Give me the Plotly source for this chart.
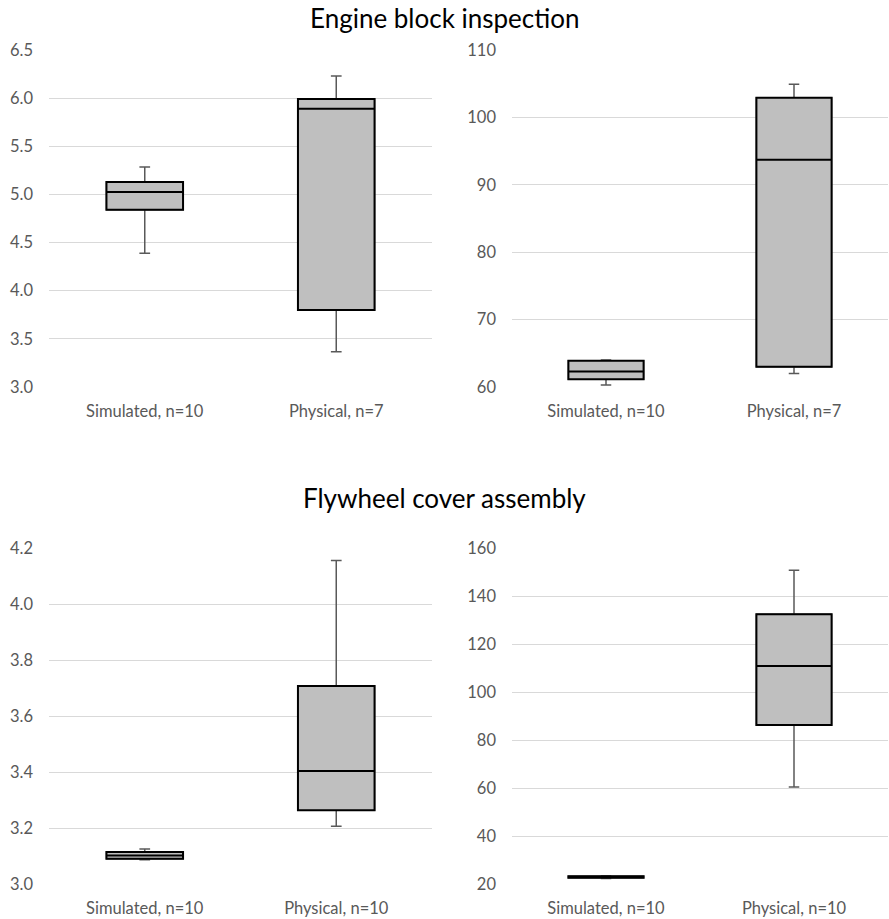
import plotly.graph_objects as go

categories_top = ["Simulated, n=10", "Physical, n=7"]
categories_bottom = ["Simulated, n=10", "Physical, n=10"]

# Engine block inspection - left panel
eb_left_min = [4.39, 3.365]
eb_left_q1 = [4.84, 3.80]
eb_left_med = [5.025, 5.89]
eb_left_q3 = [5.13, 5.99]
eb_left_max = [5.285, 6.23]

# Engine block inspection - right panel
eb_right_min = [60.3, 62.0]
eb_right_q1 = [61.15, 63.0]
eb_right_med = [62.3, 93.7]
eb_right_q3 = [63.9, 102.9]
eb_right_max = [64.0, 104.9]

# Flywheel cover assembly - left panel
fw_left_min = [3.087, 3.206]
fw_left_q1 = [3.09, 3.263]
fw_left_med = [3.102, 3.404]
fw_left_q3 = [3.114, 3.707]
fw_left_max = [3.125, 4.155]

# Flywheel cover assembly - right panel
fw_right_min = [22.3, 60.4]
fw_right_q1 = [22.6, 86.2]
fw_right_med = [22.9, 110.8]
fw_right_q3 = [23.2, 132.4]
fw_right_max = [23.4, 150.7]

panels = [
    (categories_top, eb_left_min, eb_left_q1, eb_left_med, eb_left_q3, eb_left_max, "x", "y"),
    (categories_top, eb_right_min, eb_right_q1, eb_right_med, eb_right_q3, eb_right_max, "x2", "y2"),
    (categories_bottom, fw_left_min, fw_left_q1, fw_left_med, fw_left_q3, fw_left_max, "x3", "y3"),
    (categories_bottom, fw_right_min, fw_right_q1, fw_right_med, fw_right_q3, fw_right_max, "x4", "y4"),
]

FONT = "Lato"
TICKCOL = "#595959"
GRID = "#d9d9d9"

fig = go.Figure()
for cats, mn, q1, med, q3, mx, xa, ya in panels:
    # whiskers (gray)
    fig.add_trace(go.Box(
        x=cats, q1=q1, median=med, q3=q3, lowerfence=mn, upperfence=mx,
        xaxis=xa, yaxis=ya, boxpoints=False, width=0.4, whiskerwidth=0.14,
        line=dict(color=TICKCOL, width=1.5), fillcolor="rgba(0,0,0,0)",
        offsetgroup="a", showlegend=False, hoverinfo="skip"))
    # box (black outline, gray fill)
    fig.add_trace(go.Box(
        x=cats, q1=q1, median=med, q3=q3, lowerfence=q1, upperfence=q3,
        xaxis=xa, yaxis=ya, boxpoints=False, width=0.4, whiskerwidth=0,
        line=dict(color="#000000", width=2), fillcolor="#bfbfbf",
        offsetgroup="a", showlegend=False, hoverinfo="skip"))

W = 889.0
H = 919.0
def yd(top_px, bot_px):
    return [1 - bot_px / H, 1 - top_px / H]

xdom_l = [49 / W, 432 / W]
xdom_r = [512 / W, 888 / W]
ydom_t = yd(50, 387)
ydom_b = yd(548, 884)

xcommon = dict(showgrid=False, zeroline=False, showline=False, ticks="", automargin=False,
               tickfont=dict(family=FONT, size=16.5, color=TICKCOL), range=[-0.5, 1.5],
               type="category", ticklabelstandoff=12)
ycommon = dict(showgrid=True, gridcolor=GRID, gridwidth=1.3, zeroline=False, showline=False,
               ticks="", automargin=False, ticklabelstandoff=15,
               tickfont=dict(family=FONT, size=16.5, color=TICKCOL))

fig.update_layout(
    width=889, height=919, margin=dict(l=0, r=0, t=0, b=0, autoexpand=False),
    plot_bgcolor="white", paper_bgcolor="white", boxmode="overlay",
    xaxis=dict(domain=xdom_l, anchor="y", **xcommon),
    xaxis2=dict(domain=xdom_r, anchor="y2", **xcommon),
    xaxis3=dict(domain=xdom_l, anchor="y3", **xcommon),
    xaxis4=dict(domain=xdom_r, anchor="y4", **xcommon),
    yaxis=dict(domain=ydom_t, anchor="x", range=[3.0, 6.5], dtick=0.5, tickformat=".1f", **ycommon),
    yaxis2=dict(domain=ydom_t, anchor="x2", range=[60, 110], dtick=10, **ycommon),
    yaxis3=dict(domain=ydom_b, anchor="x3", range=[3.0, 4.2], dtick=0.2, tickformat=".1f", **ycommon),
    yaxis4=dict(domain=ydom_b, anchor="x4", range=[20, 160], dtick=20, **ycommon),
    annotations=[
        dict(text="Engine block inspection", x=0.5, y=1 - 18 / H, xref="paper", yref="paper",
             showarrow=False, font=dict(family=FONT, size=26, color="#000000"), yanchor="middle"),
        dict(text="Flywheel cover assembly", x=0.5, y=1 - 498 / H, xref="paper", yref="paper",
             showarrow=False, font=dict(family=FONT, size=26, color="#000000"), yanchor="middle"),
    ],
)

fig.write_html("out.html", config={"displayModeBar": False},
               post_script="document.body.style.margin='0';document.body.style.overflow='hidden';")
